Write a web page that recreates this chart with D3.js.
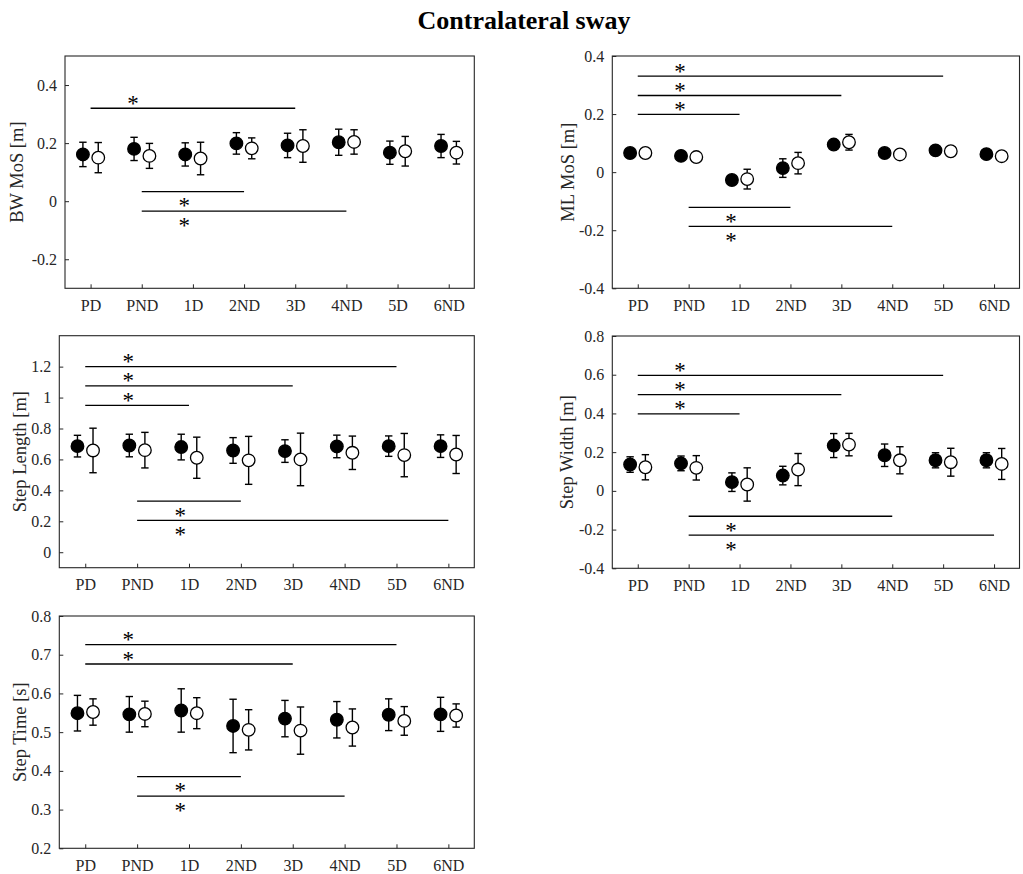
<!DOCTYPE html>
<html>
<head>
<meta charset="utf-8">
<script src="https://cdn.jsdelivr.net/npm/d3@7"></script>
<style>
  body { margin: 0; background: #fff; }
  svg text { font-family: "Liberation Serif", "Times New Roman", serif; }
</style>
</head>
<body>
<svg id="chart" width="1023" height="874"></svg>
<script>
// categories on the x axis
const categories = ["PD", "PND", "1D", "2ND", "3D", "4ND", "5D", "6ND"];

// BW MoS
const bwFilled    = [0.161, 0.180, 0.161, 0.199, 0.192, 0.203, 0.167, 0.190];
const bwFilledErr = [0.042, 0.040, 0.040, 0.037, 0.042, 0.045, 0.040, 0.040];
const bwOpen      = [0.150, 0.156, 0.147, 0.182, 0.190, 0.204, 0.172, 0.167];
const bwOpenErr   = [0.052, 0.043, 0.056, 0.036, 0.056, 0.042, 0.051, 0.039];
const bwSig = [[1, 5, 0.32, "up"], [2, 4, 0.033, "down"], [2, 6, -0.034, "down"]];

// ML MoS
const mlFilled    = [0.066, 0.056, -0.027, 0.014, 0.095, 0.066, 0.075, 0.062];
const mlFilledErr = [0.010, 0.010, 0.012, 0.032, 0.012, 0.010, 0.010, 0.010];
const mlOpen      = [0.066, 0.052, -0.024, 0.031, 0.103, 0.061, 0.072, 0.055];
const mlOpenErr   = [0.010, 0.010, 0.034, 0.037, 0.027, 0.010, 0.010, 0.010];
const mlSig = [[1, 7, 0.331, "up"], [1, 5, 0.264, "up"], [1, 3, 0.199, "up"],
               [2, 4, -0.121, "down"], [2, 6, -0.187, "down"]];

// Step Length
const slFilled    = [0.686, 0.690, 0.680, 0.658, 0.654, 0.684, 0.686, 0.686];
const slFilledErr = [0.070, 0.073, 0.083, 0.083, 0.073, 0.073, 0.066, 0.073];
const slOpen      = [0.658, 0.660, 0.611, 0.594, 0.600, 0.643, 0.628, 0.632];
const slOpenErr   = [0.144, 0.115, 0.133, 0.155, 0.170, 0.108, 0.140, 0.123];
const slSig = [[1, 7, 1.2, "up"], [1, 5, 1.075, "up"], [1, 3, 0.95, "up"],
               [2, 4, 0.331, "down"], [2, 8, 0.206, "down"]];

// Step Width
const swFilled    = [0.136, 0.142, 0.045, 0.079, 0.234, 0.184, 0.158, 0.158];
const swFilledErr = [0.040, 0.038, 0.048, 0.048, 0.062, 0.058, 0.039, 0.039];
const swOpen      = [0.122, 0.119, 0.033, 0.110, 0.239, 0.158, 0.148, 0.139];
const swOpenErr   = [0.065, 0.063, 0.086, 0.083, 0.058, 0.070, 0.072, 0.080];
const swSig = [[1, 7, 0.597, "up"], [1, 5, 0.497, "up"], [1, 3, 0.398, "up"],
               [2, 6, -0.131, "down"], [2, 8, -0.229, "down"]];

// Step Time
const stFilled    = [0.549, 0.546, 0.556, 0.516, 0.535, 0.532, 0.545, 0.546];
const stFilledErr = [0.046, 0.046, 0.056, 0.069, 0.047, 0.047, 0.041, 0.044];
const stOpen      = [0.552, 0.547, 0.549, 0.506, 0.504, 0.512, 0.529, 0.543];
const stOpenErr   = [0.034, 0.033, 0.040, 0.052, 0.061, 0.048, 0.037, 0.030];
const stSig = [[1, 7, 0.726, "up"], [1, 5, 0.676, "up"],
               [2, 4, 0.385, "down"], [2, 6, 0.335, "down"]];

const panels = [
  { label: "BW MoS [m]", box: [65, 56, 474.3, 288.3], labelX: 17, domain: [-0.3, 0.5], ticks: [-0.2, 0, 0.2, 0.4],
    filled: bwFilled, filledErr: bwFilledErr, open: bwOpen, openErr: bwOpenErr, sig: bwSig },
  { label: "ML MoS [m]", box: [612.3, 56, 1019.5, 288.3], labelX: 568, domain: [-0.4, 0.4], ticks: [-0.4, -0.2, 0, 0.2, 0.4],
    filled: mlFilled, filledErr: mlFilledErr, open: mlOpen, openErr: mlOpenErr, sig: mlSig },
  { label: "Step Length [m]", box: [59.3, 335.7, 474.3, 567.7], labelX: 20, domain: [-0.1, 1.4], ticks: [0, 0.2, 0.4, 0.6, 0.8, 1, 1.2],
    filled: slFilled, filledErr: slFilledErr, open: slOpen, openErr: slOpenErr, sig: slSig },
  { label: "Step Width [m]", box: [612.3, 336, 1019.5, 568.3], labelX: 567, domain: [-0.4, 0.8], ticks: [-0.4, -0.2, 0, 0.2, 0.4, 0.6, 0.8],
    filled: swFilled, filledErr: swFilledErr, open: swOpen, openErr: swOpenErr, sig: swSig },
  { label: "Step Time [s]", box: [59.3, 616, 474.3, 848.3], labelX: 20, domain: [0.2, 0.8], ticks: [0.2, 0.3, 0.4, 0.5, 0.6, 0.7, 0.8],
    filled: stFilled, filledErr: stFilledErr, open: stOpen, openErr: stOpenErr, sig: stSig }
];

const axisColor = "#262626";
const offset = 0.15;      // shift of the two groups around each category
const capHalf = 3.7;
const radius = 6.3;

const svg = d3.select("#chart");

svg.append("text")
  .attr("x", 524)
  .attr("y", 29)
  .attr("text-anchor", "middle")
  .style("font-weight", "bold")
  .style("font-size", "26px")
  .attr("fill", "#000")
  .text("Contralateral sway");

const fmt = d => String(Math.round(d * 10) / 10);

panels.forEach(p => {
  const [x0, y0, x1, y1] = p.box;
  const x = d3.scaleLinear().domain([0.5, categories.length + 0.5]).range([x0, x1]);
  const y = d3.scaleLinear().domain(p.domain).range([y1, y0]);

  const g = svg.append("g");

  // axes
  g.append("g")
    .attr("transform", `translate(0,${y1})`)
    .call(d3.axisBottom(x)
      .tickValues(d3.range(1, categories.length + 1))
      .tickFormat(i => categories[i - 1])
      .tickSizeInner(-4).tickSizeOuter(0).tickPadding(11))
    .call(sel => sel.select(".domain").remove())
    .call(sel => sel.selectAll("line").attr("stroke", axisColor))
    .call(sel => sel.selectAll("text").attr("fill", axisColor)
      .style("font-size", "16px").style("font-family", "'Liberation Serif', serif"));

  g.append("g")
    .attr("transform", `translate(${x0},0)`)
    .call(d3.axisLeft(y)
      .tickValues(p.ticks)
      .tickFormat(fmt)
      .tickSizeInner(-4).tickSizeOuter(0).tickPadding(8))
    .call(sel => sel.select(".domain").remove())
    .call(sel => sel.selectAll("line").attr("stroke", axisColor))
    .call(sel => sel.selectAll("text").attr("fill", axisColor)
      .style("font-size", "16px").style("font-family", "'Liberation Serif', serif"));

  g.append("rect")
    .attr("x", x0).attr("y", y0)
    .attr("width", x1 - x0).attr("height", y1 - y0)
    .attr("fill", "none")
    .attr("stroke", axisColor)
    .attr("stroke-width", 1.1);

  g.append("text")
    .attr("transform", `translate(${p.labelX},${(y0 + y1) / 2}) rotate(-90)`)
    .attr("text-anchor", "middle")
    .attr("dominant-baseline", "central")
    .attr("fill", axisColor)
    .style("font-size", "18.5px")
    .text(p.label);

  // significance lines
  g.selectAll(".sig")
    .data(p.sig)
    .join("line")
    .attr("class", "sig")
    .attr("x1", d => x(d[0])).attr("x2", d => x(d[1]))
    .attr("y1", d => y(d[2])).attr("y2", d => y(d[2]))
    .attr("stroke", "#000")
    .attr("stroke-width", 1.3);

  g.selectAll(".star")
    .data(p.sig)
    .join("text")
    .attr("class", "star")
    .attr("x", d => x(d[0] + 0.83))
    .attr("y", d => y(d[2]) + (d[3] === "up" ? 2.5 : 21.5))
    .attr("text-anchor", "middle")
    .style("font-size", "23px")
    .attr("fill", "#000")
    .text("*");

  const series = [
    { dx: -offset, mean: p.filled, err: p.filledErr, fill: "#000" },
    { dx: offset, mean: p.open, err: p.openErr, fill: "#fff" }
  ];

  series.forEach(s => {
    const pts = s.mean.map((m, i) => ({ cx: x(i + 1 + s.dx), m, e: s.err[i] }));

    const eb = g.append("g").attr("stroke", "#000").attr("stroke-width", 1.4);
    eb.selectAll(".v").data(pts).join("line")
      .attr("x1", d => d.cx).attr("x2", d => d.cx)
      .attr("y1", d => y(d.m - d.e)).attr("y2", d => y(d.m + d.e));
    eb.selectAll(".ct").data(pts).join("line").attr("class", "ct")
      .attr("x1", d => d.cx - capHalf).attr("x2", d => d.cx + capHalf)
      .attr("y1", d => y(d.m + d.e)).attr("y2", d => y(d.m + d.e));
    eb.selectAll(".cb").data(pts).join("line").attr("class", "cb")
      .attr("x1", d => d.cx - capHalf).attr("x2", d => d.cx + capHalf)
      .attr("y1", d => y(d.m - d.e)).attr("y2", d => y(d.m - d.e));

    g.append("g").selectAll("circle").data(pts).join("circle")
      .attr("cx", d => d.cx)
      .attr("cy", d => y(d.m))
      .attr("r", radius)
      .attr("fill", s.fill)
      .attr("stroke", "#000")
      .attr("stroke-width", 1.3);
  });
});
</script>
</body>
</html>
